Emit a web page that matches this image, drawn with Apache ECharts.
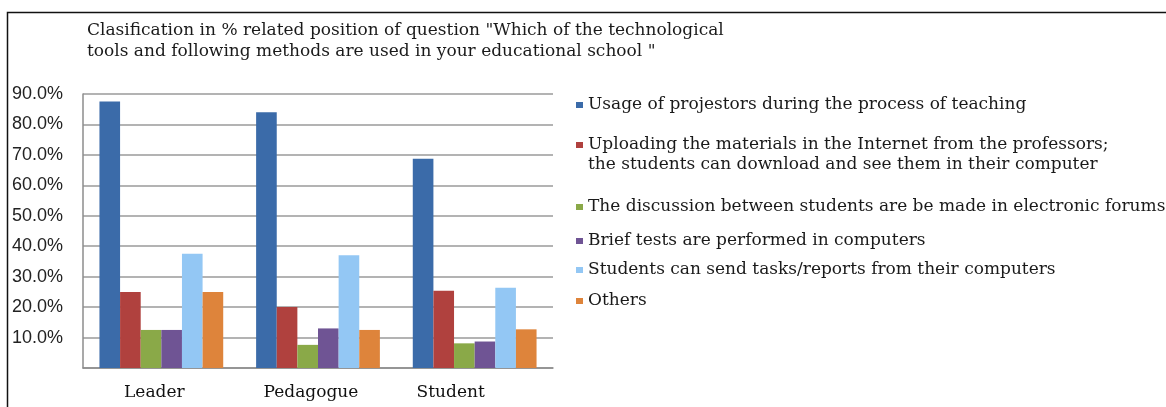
<!DOCTYPE html>
<html>
<head>
<meta charset="utf-8">
<script src="https://cdn.jsdelivr.net/npm/echarts@6/dist/echarts.min.js"></script>
<style>
  html, body { margin: 0; padding: 0; background: #fff; }
  #chart { width: 1166px; height: 407px; }
</style>
</head>
<body>
<div id="chart"></div>
<script>
/* ----------------------------  data  ---------------------------- */
const categories = ['Leader', 'Pedagogue', 'Student'];
const seriesNames = [
  'Usage of projestors during the process of teaching',
  'Uploading the materials in the Internet from the professors;\nthe students can download and see them in their computer',
  'The discussion between students are be made in electronic forums',
  'Brief tests are performed in computers',
  'Students can send tasks/reports from their computers',
  'Others'
];
const projectors = [87.5, 84.0, 68.7];
const uploading = [25.0, 20.0, 25.4];
const forums = [12.5, 7.6, 8.1];
const briefTests = [12.5, 13.0, 8.7];
const sendTasks = [37.5, 37.0, 26.4];
const others = [25.0, 12.5, 12.7];
const yTicks = [0, 10, 20, 30, 40, 50, 60, 70, 80, 90];

const seriesValues = [projectors, uploading, forums, briefTests, sendTasks, others];
const colors = ['#3b6ba9', '#b0413e', '#8aa948', '#6f5494', '#93c7f4', '#de843b'];

/* ----------------------------  layout helpers  ---------------------------- */
const serif = 'DejaVu Serif';
const legendTops = [90, 110, 192, 226, 255, 286];
// label shift per category (reference labels sit a bit left of centre)
const labelShift = [14, 14, 48];

const chart = echarts.init(document.getElementById('chart'));

// one legend per entry so each can sit where the reference puts it
const legends = seriesNames.map((name, i) => ({
  left: 571,
  top: legendTops[i],
  icon: 'rect',
  itemWidth: 7,
  itemHeight: 6,
  selectedMode: false,
  data: [name],
  // leading blank line keeps the marker level with the first text line
  formatter: n => (n.indexOf('\n') > -1 ? '\n' + n : n),
  textStyle: {
    fontFamily: serif,
    fontSize: 17,
    lineHeight: 20,
    color: '#1a1a1a'
  }
}));

chart.setOption({
  animation: false,
  color: colors,
  title: {
    text: 'Clasification in % related position of question "Which of the technological\ntools and following methods are used in your educational school "',
    left: 82,
    top: 15,
    textStyle: {
      fontFamily: serif,
      fontSize: 17,
      fontWeight: 'normal',
      lineHeight: 21,
      color: '#1a1a1a'
    }
  },
  legend: legends,
  graphic: [{
    type: 'rect',
    shape: { x: 7.5, y: 12.5, width: 1200, height: 500 },
    style: { fill: 'none', stroke: '#111', lineWidth: 1.5 },
    silent: true
  }],
  grid: { left: 83, right: 613, top: 94, bottom: 39 },
  xAxis: {
    type: 'category',
    data: categories.map((c, i) => ({
      value: c,
      textStyle: { padding: [0, labelShift[i], 0, 0] }
    })),
    axisLine: { lineStyle: { color: '#8c8c8c', width: 1.5 } },
    axisTick: { show: false },
    axisLabel: {
      fontFamily: serif,
      fontSize: 17,
      color: '#111',
      margin: 16
    }
  },
  yAxis: {
    type: 'value',
    min: yTicks[0],
    max: yTicks[yTicks.length - 1],
    interval: 10,
    axisLine: { show: true, lineStyle: { color: '#8c8c8c', width: 1.5 } },
    axisTick: { show: false },
    splitLine: { lineStyle: { color: '#9a9a9a', width: 1.5 } },
    axisLabel: {
      fontFamily: 'Liberation Sans',
      fontSize: 18,
      color: '#222',
      margin: 20,
      formatter: v => (v === 0 ? '' : v.toFixed(1) + '%')
    }
  },
  series: seriesNames.map((name, i) => ({
    name,
    type: 'bar',
    data: seriesValues[i],
    barGap: '0%',
    barCategoryGap: '21%'
  }))
});
</script>
</body>
</html>
